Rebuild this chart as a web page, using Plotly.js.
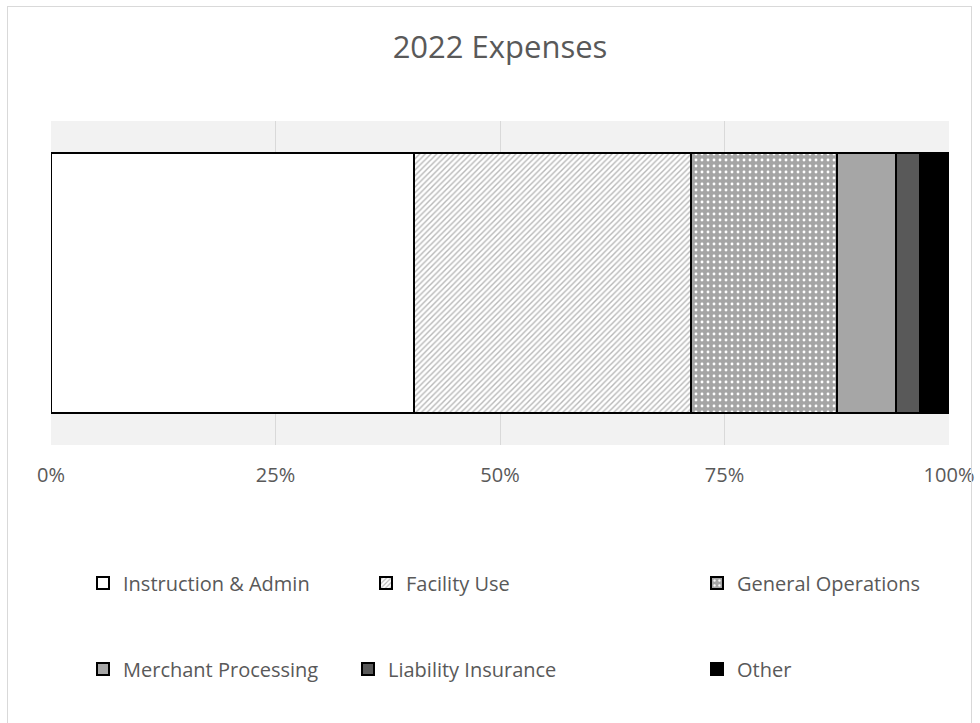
<!DOCTYPE html>
<html>
<head>
<meta charset="utf-8">
<script src="https://cdn.plot.ly/plotly-3.0.1.min.js"></script>
<style>
  html, body { margin: 0; padding: 0; background: #ffffff; }
  #chart { width: 980px; height: 723px; position: relative; }
  #frame { position: absolute; left: 7px; top: 6px; width: 963px; height: 740px;
           border: 1px solid #d9d9d9; pointer-events: none; }
</style>
</head>
<body>
<div id="chart"></div>
<div id="frame"></div>
<script>
// ---- data ----
const categories = ["2022"];
const seriesNames = ["Instruction & Admin", "Facility Use", "General Operations",
                     "Merchant Processing", "Liability Insurance", "Other"];
const instructionAdmin = [40.4];
const facilityUse = [30.9];
const generalOperations = [16.2];
const merchantProcessing = [6.6];
const liabilityInsurance = [2.7];
const other = [3.2];
const tickValues = [0, 25, 50, 75, 100];
const tickLabels = ["0%", "25%", "50%", "75%", "100%"];

const seriesValues = [instructionAdmin, facilityUse, generalOperations,
                      merchantProcessing, liabilityInsurance, other];

// ---- styles ----
const styles = [
  { color: "#ffffff", pattern: { shape: "" } },
  { color: "#ffffff", pattern: { shape: "/", fillmode: "replace", bgcolor: "#ffffff", fgcolor: "#b8b8b8", size: 4, solidity: 0.35 } },
  { color: "#a5a5a5", pattern: { shape: ".", fillmode: "replace", bgcolor: "#a5a5a5", fgcolor: "#ffffff", size: 6, solidity: 0.18 } },
  { color: "#a6a6a6", pattern: { shape: "" } },
  { color: "#595959", pattern: { shape: "" } },
  { color: "#000000", pattern: { shape: "" } }
];

const legendNames = ["legend", "legend2", "legend3", "legend4", "legend5", "legend6"];
const legendMarkerCenters = [103, 386, 717, 103, 368, 717]; // px
const legendRowCenters = [583, 583, 583, 669, 669, 669];     // px

const plotLeft = 51, plotRight = 949, plotTop = 121, plotBottom = 445;
const W = 980, H = 723;

const traces = seriesNames.map((name, i) => ({
  type: "bar",
  orientation: "h",
  name: name,
  y: categories,
  x: seriesValues[i],
  marker: {
    color: styles[i].color,
    line: { color: "#000000", width: 2 },
    pattern: styles[i].pattern
  },
  legend: legendNames[i],
  hoverinfo: "name+x"
}));

const legendFont = { family: "Open Sans, Noto Sans, sans-serif", size: 20, color: "#595959" };

const layout = {
  width: W, height: H,
  paper_bgcolor: "rgba(0,0,0,0)",
  plot_bgcolor: "#f2f2f2",
  margin: { l: plotLeft, r: W - plotRight, t: plotTop, b: H - plotBottom, pad: 0 },
  barmode: "stack",
  bargap: 0.2,
  title: {
    text: "2022 Expenses",
    font: { family: "Open Sans, Noto Sans, sans-serif", size: 31, color: "#595959" },
    x: 0.5, xref: "paper", xanchor: "center",
    y: 1 - 47.5 / H, yref: "container", yanchor: "middle"
  },
  xaxis: {
    range: [0, 100],
    tickvals: tickValues,
    ticktext: tickLabels,
    showgrid: true,
    gridcolor: "#d9d9d9",
    gridwidth: 1,
    zeroline: false,
    showline: false,
    ticks: "",
    ticklabelstandoff: 16,
    tickfont: { family: "Open Sans, Noto Sans, sans-serif", size: 20, color: "#595959" },
    fixedrange: true
  },
  yaxis: {
    type: "category",
    showticklabels: false,
    showgrid: false,
    zeroline: false,
    showline: false,
    ticks: "",
    range: [-0.5, 0.5],
    fixedrange: true
  },
  showlegend: true,
  font: { family: "Open Sans, Noto Sans, sans-serif", color: "#595959" }
};

legendNames.forEach((ln, i) => {
  layout[ln] = {
    x: (legendMarkerCenters[i] - 20 - plotLeft) / (plotRight - plotLeft),
    xanchor: "left",
    y: (plotBottom - legendRowCenters[i]) / (plotBottom - plotTop),
    yanchor: "middle",
    orientation: "h",
    bgcolor: "rgba(0,0,0,0)",
    borderwidth: 0,
    font: legendFont,
    itemwidth: 30
  };
});

Plotly.newPlot("chart", traces, layout, { displayModeBar: false, staticPlot: true });
</script>
</body>
</html>
